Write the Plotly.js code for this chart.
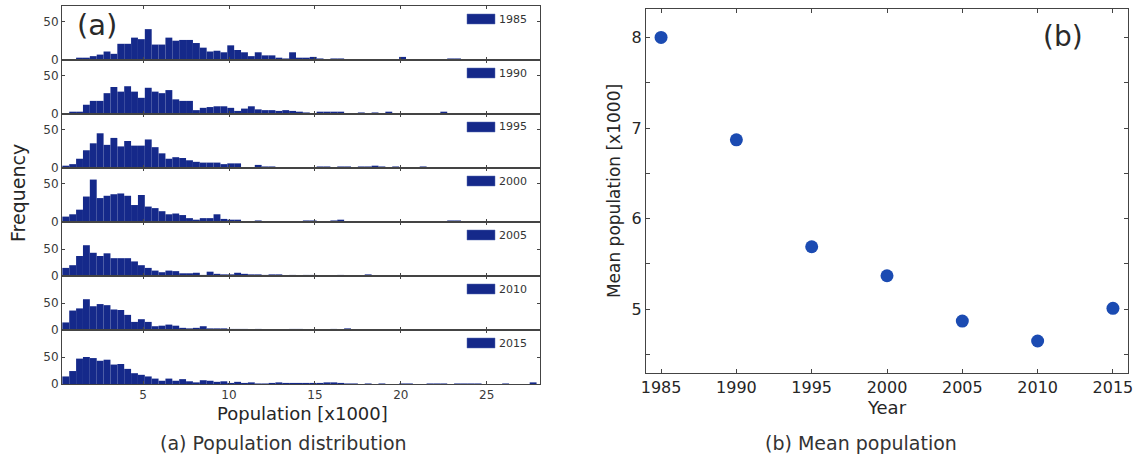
<!DOCTYPE html>
<html>
<head>
<meta charset="utf-8">
<script src="https://cdn.plot.ly/plotly-3.0.1.min.js"></script>
<style>html,body{margin:0;padding:0;background:#fff;}#chart{width:1137px;height:462px;}</style>
</head>
<body>
<div id="chart"></div>
<script>
// ---- Data ----
var years = [1985, 1990, 1995, 2000, 2005, 2010, 2015];
var binStart = 0.3;   // first bin edge, population [x1000]
var binWidth = 0.4;   // bin width, population [x1000]

var freq1985 = [1,1,3,3,5,7,11,8,21,21, 29,27,40,20,20,29,25,26,26,22, 16,11,12,10,19,13,10,5,10,6, 6,3,2,10,3,3,4,2,1,2, 2,0,0,1,1,1,0,0,0,4, 1,0,0,1,0,0,2,2,0,0, 1,1,0,0,1,0,0,0,0,0];
var freq1990 = [1,3,3,12,17,17,27,35,29,36, 29,21,34,29,27,31,19,17,17,5, 8,9,10,10,8,4,7,10,6,5, 5,4,5,4,3,2,1,3,3,3, 3,1,0,2,1,2,0,3,0,0, 0,0,1,1,0,3,0,0,1,0, 0,1,0,0,0,0,0,1,1,1];
var freq1995 = [3,5,12,23,32,45,30,39,28,35, 29,29,37,27,19,12,14,13,10,8, 7,7,7,5,6,6,1,0,4,2, 2,1,1,1,1,1,1,2,2,1, 2,2,0,2,2,3,2,1,2,0, 0,1,2,0,1,0,0,0,0,1, 0,0,1,0,0,1,0,0,0,1];
var freq2000 = [7,10,16,33,55,31,34,36,37,34, 22,35,20,18,14,10,11,9,5,3, 5,5,10,4,3,3,1,1,2,1, 1,1,1,1,1,2,2,0,1,2, 3,1,1,1,1,0,1,0,0,0, 0,0,0,0,0,0,2,2,1,1, 1,1,0,0,0,0,1,0,0,0];
var freq2005 = [15,20,37,57,43,37,42,33,33,33, 27,20,15,10,7,10,9,5,5,6, 2,8,4,3,3,6,4,3,3,2, 3,3,1,2,1,2,2,1,0,1, 2,1,1,0,3,0,0,0,0,1, 1,1,0,0,0,0,0,1,1,1, 1,0,0,0,1,0,0,0,0,0];
var freq2010 = [14,36,40,57,44,48,46,38,37,28, 15,20,15,7,8,10,8,4,3,4, 7,3,3,3,2,2,2,1,2,1, 1,1,1,2,2,1,1,0,1,2, 1,3,1,1,0,0,0,1,0,0, 1,0,1,1,1,0,1,0,1,0, 0,1,0,0,0,0,1,1,0,0];
var freq2015 = [14,24,47,50,48,43,45,36,37,28, 20,17,14,10,6,10,6,9,5,3, 7,6,4,5,2,4,2,3,1,1, 2,3,2,2,2,2,2,2,3,3, 2,1,1,0,1,0,1,0,0,1, 1,0,0,1,1,1,0,1,1,1, 1,0,0,0,1,0,0,0,3,0];
var freqByYear = [freq1985, freq1990, freq1995, freq2000, freq2005, freq2010, freq2015];

var xTicks = [5, 10, 15, 20, 25];
var meanYears = [1985, 1990, 1995, 2000, 2005, 2010, 2015];
var meanPop = [8.00, 6.87, 5.69, 5.37, 4.87, 4.65, 5.01];

// ---- Build the figure ----
var W = 1137, H = 462;
function px2x(p){ return p / W; }
function py2y(p){ return 1 - p / H; }

var barColor = '#15298a';
var axisColor = '#444444';
var fontFam = 'DejaVu Sans, Liberation Sans, Arial, sans-serif';
var txt = '#262626';

var binCenters = freq1985.map(function(_, i){ return binStart + binWidth * (i + 0.5); });

var traces = [];
var layout = {
  width: W, height: H,
  margin: {l: 0, r: 0, t: 0, b: 0},
  paper_bgcolor: '#ffffff', plot_bgcolor: '#ffffff',
  showlegend: false,
  font: {family: fontFam, color: txt},
  shapes: [], annotations: []
};

var leftX0 = 62, leftX1 = 540, panelTop = 6, panelH = 54;
var yMaxByYear = [70, 70, 70, 70, 100, 100, 100];

years.forEach(function(yr, i){
  var n = i + 1;
  var xa = n === 1 ? 'x' : 'x' + n;
  var ya = n === 1 ? 'y' : 'y' + n;
  traces.push({
    type: 'bar', x: binCenters, y: freqByYear[i], width: binWidth,
    xaxis: xa, yaxis: ya,
    marker: {color: barColor, line: {width: 0}},
    hoverinfo: 'x+y'
  });
  var top = panelTop + panelH * i, bot = top + panelH;
  var isLast = (i === years.length - 1);
  layout['xaxis' + (n === 1 ? '' : n)] = {
    domain: [px2x(leftX0), px2x(leftX1)],
    anchor: ya,
    range: [0.28, 28.1],
    tickvals: xTicks,
    showticklabels: isLast,
    ticks: 'inside', ticklen: 3, tickcolor: axisColor,
    showline: true, linecolor: axisColor, linewidth: 1, mirror: 'ticks',
    showgrid: false, zeroline: false,
    tickfont: {size: 12, color: '#3a3a3a', family: fontFam}
  };
  layout['yaxis' + (n === 1 ? '' : n)] = {
    domain: [py2y(bot), py2y(top)],
    anchor: xa,
    range: [0, yMaxByYear[i]],
    tickvals: [0, 50],
    ticks: 'inside', ticklen: 3, tickcolor: axisColor,
    showline: true, linecolor: axisColor, linewidth: 1, mirror: 'ticks',
    showgrid: false, zeroline: false,
    tickfont: {size: 12, color: '#3a3a3a', family: fontFam}
  };
  // per-panel legend patch + label
  layout.shapes.push({
    type: 'rect', xref: xa + ' domain', yref: ya + ' domain',
    x0: (467 - leftX0) / (leftX1 - leftX0), x1: (495 - leftX0) / (leftX1 - leftX0),
    y0: 1 - 18 / panelH, y1: 1 - 8 / panelH,
    fillcolor: barColor, line: {width: 0.5, color: '#5a6fb0'}
  });
  layout.annotations.push({
    xref: xa + ' domain', yref: ya + ' domain',
    x: (497 - leftX0) / (leftX1 - leftX0), y: 1 - 13 / panelH,
    xanchor: 'left', yanchor: 'middle', showarrow: false,
    text: String(yr), font: {size: 11, color: '#333', family: fontFam}
  });
});

// Right panel: mean population
traces.push({
  type: 'scatter', mode: 'markers', x: meanYears, y: meanPop,
  xaxis: 'x8', yaxis: 'y8',
  marker: {color: '#1b4bb2', size: 13},
  hoverinfo: 'x+y'
});
layout.xaxis8 = {
  domain: [px2x(646), px2x(1128)], anchor: 'y8',
  range: [1984, 2016],
  tickvals: meanYears,
  ticks: 'inside', ticklen: 4, tickcolor: axisColor,
  showline: true, linecolor: axisColor, linewidth: 1, mirror: 'ticks',
  showgrid: false, zeroline: false,
  tickfont: {size: 16, color: txt, family: fontFam},
  title: {text: 'Year', font: {size: 18, color: txt, family: fontFam}, standoff: 0}
};
layout.yaxis8 = {
  domain: [py2y(372.7), py2y(9.3)], anchor: 'x8',
  range: [4.3, 8.31],
  tickvals: [5, 6, 7, 8],
  ticks: 'inside', ticklen: 4, tickcolor: axisColor,
  minor: {dtick: 0.5, ticks: 'inside', ticklen: 4, tickcolor: axisColor},
  showline: true, linecolor: axisColor, linewidth: 1, mirror: 'ticks',
  showgrid: false, zeroline: false,
  tickfont: {size: 16, color: txt, family: fontFam},
  title: {text: 'Mean population [x1000]', font: {size: 17, color: txt, family: fontFam}, standoff: 6}
};

// Text labels
layout.annotations.push(
  {xref: 'paper', yref: 'paper', x: px2x(97), y: py2y(25), text: '(a)', showarrow: false,
   xanchor: 'center', yanchor: 'middle', font: {size: 29, color: '#2a2a2a', family: fontFam}},
  {xref: 'paper', yref: 'paper', x: px2x(1063), y: py2y(36), text: '(b)', showarrow: false,
   xanchor: 'center', yanchor: 'middle', font: {size: 28, color: '#2a2a2a', family: fontFam}},
  {xref: 'paper', yref: 'paper', x: px2x(18), y: py2y(193), text: 'Frequency', showarrow: false,
   textangle: -90, xanchor: 'center', yanchor: 'middle', font: {size: 19, color: txt, family: fontFam}},
  {xref: 'paper', yref: 'paper', x: px2x(302), y: py2y(413), text: 'Population [x1000]', showarrow: false,
   xanchor: 'center', yanchor: 'middle', font: {size: 18, color: txt, family: fontFam}},
  {xref: 'paper', yref: 'paper', x: px2x(283), y: py2y(443), text: '(a) Population distribution', showarrow: false,
   xanchor: 'center', yanchor: 'middle', font: {size: 19, color: '#333', family: fontFam}},
  {xref: 'paper', yref: 'paper', x: px2x(861), y: py2y(443), text: '(b) Mean population', showarrow: false,
   xanchor: 'center', yanchor: 'middle', font: {size: 19, color: '#333', family: fontFam}}
);

Plotly.newPlot('chart', traces, layout, {displayModeBar: false, staticPlot: true});
</script>
</body>
</html>
